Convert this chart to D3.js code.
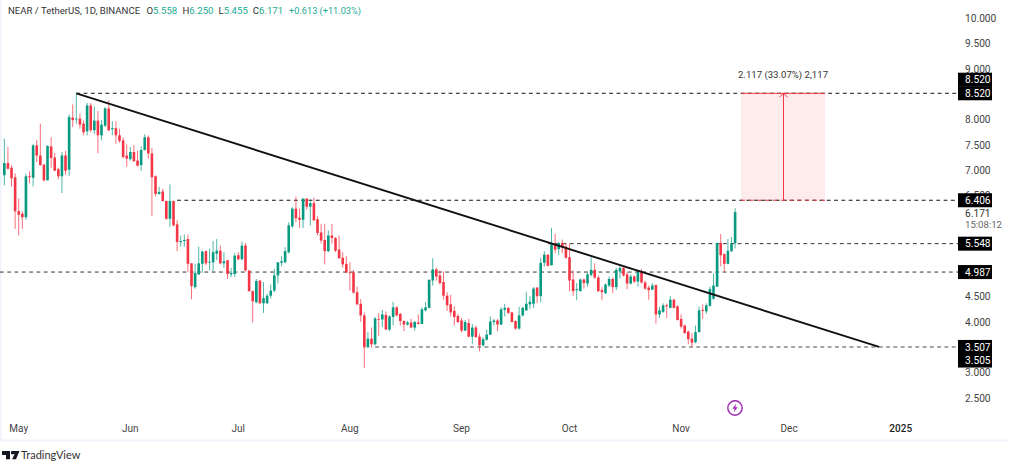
<!DOCTYPE html>
<html><head><meta charset="utf-8">
<script src="https://cdn.jsdelivr.net/npm/d3@7/dist/d3.min.js"></script>
<style>html,body{margin:0;padding:0;background:#fff;overflow:hidden}svg{display:block}text{font-family:Roboto,"Liberation Sans",sans-serif}</style>
</head><body><svg id="c" width="1009" height="465"></svg>
<script>
const firstDay = "2024-04-27";
const opens = [6.90,7.14,7.05,6.86,6.19,6.14,6.07,6.88,6.85,7.49,
7.29,7.11,6.80,7.47,7.25,7.02,6.88,7.29,7.01,8.04,
8.01,8.02,7.92,7.77,8.28,7.79,7.98,7.69,7.88,8.22,
7.81,7.83,7.69,7.59,7.29,7.22,7.36,7.19,7.10,7.40,
7.65,7.33,6.88,6.53,6.58,6.39,6.04,6.39,5.93,5.58,
5.60,5.64,5.16,4.69,4.94,5.15,5.40,5.18,5.18,5.35,
5.41,5.16,5.22,4.94,4.95,5.32,5.24,5.51,5.02,4.61,
4.39,4.82,4.37,4.37,4.52,4.62,4.92,5.17,5.18,5.38,
5.89,6.24,6.06,6.02,6.44,6.28,6.35,6.03,5.77,5.62,
5.40,5.71,5.66,5.43,5.27,5.15,4.98,4.98,4.59,4.36,
4.13,3.50,3.67,3.56,4.06,4.05,4.14,3.85,4.10,4.29,
4.16,4.02,3.95,3.99,3.89,3.99,3.96,4.23,4.28,4.82,
5.04,4.92,4.79,4.52,4.35,4.22,4.12,4.03,3.83,3.98,
3.71,3.89,3.71,3.54,3.65,3.75,4.00,4.03,3.95,4.24,
4.28,4.19,4.02,3.87,4.13,4.23,4.35,4.36,4.68,4.51,
5.17,5.33,5.12,5.55,5.44,5.56,5.49,5.28,4.84,4.63,
4.61,4.84,4.76,4.93,5.03,4.88,4.63,4.57,4.72,4.85,
4.69,5.00,5.07,4.94,4.76,4.90,4.80,4.99,4.78,4.68,
4.64,4.73,4.15,4.20,4.33,4.28,4.44,4.31,4.06,3.93,
3.81,3.67,3.60,3.80,4.24,4.21,4.32,4.46,4.70,5.56,
5.34,5.15,5.40,5.558];
const closes = [7.14,7.03,6.84,6.19,6.12,6.07,6.88,6.86,7.49,7.29,
7.10,6.80,7.48,7.24,6.99,6.88,7.29,6.99,8.05,7.99,
8.02,7.90,7.75,8.28,7.79,7.98,7.69,7.90,8.22,7.79,
7.83,7.69,7.58,7.26,7.23,7.36,7.18,7.09,7.40,7.65,
7.33,6.86,6.53,6.57,6.39,6.04,6.39,5.91,5.58,5.60,
5.62,5.15,4.71,4.97,5.16,5.39,5.16,5.19,5.38,5.41,
5.16,5.20,4.95,4.97,5.31,5.24,5.51,5.02,4.61,4.41,
4.81,4.37,4.47,4.52,4.62,4.92,5.18,5.20,5.40,5.91,
6.24,6.05,6.02,6.44,6.28,6.35,6.01,5.76,5.61,5.40,
5.71,5.66,5.41,5.26,5.14,4.98,4.97,4.58,4.35,4.13,
3.50,3.67,3.56,4.07,4.05,4.15,3.85,4.11,4.29,4.13,
4.02,3.95,3.99,3.89,4.00,3.96,4.25,4.29,4.83,5.04,
4.90,4.77,4.52,4.33,4.19,4.10,4.00,3.83,4.00,3.71,
3.89,3.70,3.54,3.66,3.75,4.01,4.03,3.95,4.25,4.28,
4.18,4.00,3.87,4.13,4.28,4.36,4.40,4.66,4.51,5.17,
5.33,5.11,5.55,5.43,5.56,5.48,5.27,4.82,4.61,4.65,
4.84,4.77,4.94,5.03,4.88,4.61,4.59,4.74,4.85,4.69,
5.03,5.07,4.92,4.76,4.90,4.80,5.00,4.78,4.66,4.63,
4.72,4.15,4.23,4.33,4.31,4.44,4.28,4.04,3.91,3.78,
3.66,3.59,3.80,4.23,4.22,4.33,4.65,4.72,5.56,5.32,
5.15,5.41,5.55,6.171];
const highs = [7.62,7.46,7.10,6.94,6.44,6.19,6.93,6.98,7.52,7.60,
7.92,7.12,7.49,7.65,7.34,7.05,7.36,7.38,8.10,8.30,
8.52,8.12,7.98,8.33,8.33,8.26,8.17,7.99,8.25,8.38,
7.97,7.97,7.82,7.65,7.51,7.46,7.50,7.38,7.47,7.71,
7.69,7.44,6.90,6.67,6.63,6.40,6.72,6.40,6.01,5.71,
5.73,5.73,5.16,5.15,5.49,5.41,5.41,5.45,5.60,5.64,
5.51,5.38,5.22,5.07,5.36,5.38,5.59,5.56,5.02,4.62,
4.85,4.82,4.79,4.56,4.74,5.05,5.18,5.30,5.48,5.97,
6.27,6.48,6.24,6.44,6.44,6.42,6.46,6.09,5.94,5.94,
5.81,5.94,5.68,5.71,5.38,5.30,5.18,5.03,4.70,4.45,
4.19,3.80,3.89,4.10,4.17,4.24,4.21,4.13,4.40,4.31,
4.18,4.03,4.02,4.06,4.02,4.15,4.29,4.39,4.85,5.26,
5.07,5.02,5.00,4.59,4.54,4.31,4.16,4.08,4.04,4.06,
3.96,3.93,3.77,3.70,3.85,4.11,4.06,4.06,4.29,4.36,
4.29,4.20,4.03,4.30,4.30,4.59,4.51,4.69,4.69,5.27,
5.40,5.34,5.86,5.74,5.58,5.63,5.56,5.55,5.02,4.77,
4.86,4.86,4.97,5.28,5.16,4.92,4.69,4.76,4.90,4.88,
5.07,5.12,5.10,4.99,4.94,4.92,5.03,5.05,4.82,4.72,
4.77,4.74,4.30,4.37,4.36,4.51,4.46,4.33,4.15,3.95,
3.83,3.78,3.93,4.30,4.35,4.37,4.70,4.95,5.57,5.74,
5.36,5.64,5.68,6.25];
const lows = [6.70,7.01,6.67,5.84,5.71,5.84,6.02,6.74,6.68,7.16,
7.09,6.78,6.80,7.05,6.99,6.82,6.55,6.91,6.89,7.85,
7.92,7.82,7.69,7.69,7.75,7.71,7.34,7.59,7.85,7.77,
7.69,7.52,7.54,7.23,7.07,7.19,7.16,7.07,6.99,7.39,
7.23,6.09,6.48,6.52,6.38,6.02,5.88,5.89,5.40,5.49,
5.49,4.99,4.45,4.66,4.93,4.97,5.12,5.02,5.00,5.22,
5.14,5.07,4.85,4.89,4.89,5.22,5.22,5.00,4.60,3.99,
4.37,4.36,4.18,4.36,4.46,4.59,4.76,5.10,5.16,5.35,
5.86,5.97,5.86,5.86,6.22,5.91,6.00,5.71,5.55,5.14,
5.38,5.55,5.38,5.25,5.07,4.97,4.62,4.56,4.33,4.00,
3.09,3.49,3.49,3.54,3.73,3.90,3.85,3.82,3.93,4.11,
3.93,3.82,3.93,3.88,3.83,3.95,3.96,4.21,4.27,4.72,
4.82,4.74,4.44,4.22,4.11,3.93,3.98,3.80,3.82,3.70,
3.56,3.69,3.42,3.52,3.63,3.74,3.93,3.82,3.94,4.11,
4.16,3.99,3.85,3.85,4.11,4.22,4.26,4.28,4.37,4.39,
5.09,5.10,5.12,5.36,5.32,5.36,5.25,4.61,4.52,4.43,
4.60,4.66,4.70,4.90,4.85,4.59,4.43,4.55,4.69,4.57,
4.63,4.86,4.90,4.65,4.74,4.77,4.70,4.76,4.64,4.44,
4.63,3.97,4.08,4.18,4.08,4.27,4.27,4.03,3.87,3.77,
3.56,3.50,3.58,3.79,4.06,4.16,4.30,4.44,4.69,5.10,
4.99,5.14,5.38,5.455];

const priceTicks = [10,9.5,9,8,7.5,7,6.5,4.5,4,3,2.5];
const monthLabels = ["May","Jun","Jul","Aug","Sep","Oct","Nov","Dec","2025"];
const monthDates = ["2024-05-01","2024-06-01","2024-07-01","2024-08-01","2024-09-01","2024-10-01","2024-11-01","2024-12-01","2025-01-01"];
const levelValues = [8.52,6.406,5.548,4.987,3.507,3.505];
const levelStarts = ["2024-05-17","2024-06-14","2024-09-25","2024-04-25","2024-08-08","2024-08-08"];
const badgeValues = [8.52,6.406,5.548,4.987,3.507];
const trendDates = ["2024-05-17","2024-12-26"];
const trendPrices = [8.52,3.507];
const targetPrices = [8.52,6.406];

const parse = d3.utcParse("%Y-%m-%d");
const green = "#089981", red = "#f23645";
const svg = d3.select("#c");
const x = d3.scaleUtc().domain([parse(firstDay), parse("2025-01-01")]).range([4.33, 900.7]);
const y = d3.scaleLinear().domain([10, 2.5]).range([18.4, 397.9]);
const axisRight = 958;
const day = i => d3.utcDay.offset(parse(firstDay), i);

svg.append("rect").attr("x",0).attr("y",0).attr("width",1.6).attr("height",441).attr("fill","#f0f3fa");
svg.append("rect").attr("x",0).attr("y",439.5).attr("width",1009).attr("height",2).attr("fill","#f0f3fa");

// target box
const byT = y(targetPrices[0]), byB = y(targetPrices[1]);
svg.append("rect").attr("x",741).attr("y",byT).attr("width",84).attr("height",byB-byT).attr("fill","#feeced");

// horizontal levels
levelValues.forEach((v,i)=>{
  svg.append("line").attr("x1",Math.max(0,x(parse(levelStarts[i])))).attr("x2",axisRight)
    .attr("y1",y(v)).attr("y2",y(v)).attr("stroke",i>=4?"#888":(i>=2?"#333":"#111")).attr("stroke-width",i>=4?1.1:1)
    .attr("stroke-dasharray","3.8 3.5");
});

// candles
const candles = opens.map((o,i)=>({i,o,h:highs[i],l:lows[i],c:closes[i]}));
const g = svg.append("g");
g.selectAll("line.w").data(candles).join("line").attr("class","w")
  .attr("x1",d=>x(day(d.i))).attr("x2",d=>x(day(d.i)))
  .attr("y1",d=>y(d.h)).attr("y2",d=>y(d.l))
  .attr("stroke",d=>d.c>=d.o?green:red).attr("stroke-width",0.9).attr("stroke-opacity",0.8);
g.selectAll("rect.b").data(candles).join("rect").attr("class","b")
  .attr("x",d=>x(day(d.i))-1.3).attr("width",2.6)
  .attr("y",d=>y(Math.max(d.o,d.c)))
  .attr("height",d=>Math.max(0.8,Math.abs(y(d.o)-y(d.c))))
  .attr("fill",d=>d.c>=d.o?green:red);

// trend line
svg.append("line").attr("x1",x(parse(trendDates[0]))).attr("y1",y(trendPrices[0]))
  .attr("x2",x(parse(trendDates[1]))).attr("y2",y(trendPrices[1]))
  .attr("stroke","#111").attr("stroke-width",1.9);

// target box strokes and arrow
svg.append("line").attr("x1",741).attr("x2",825).attr("y1",byT).attr("y2",byT).attr("stroke",red).attr("stroke-width",1);
svg.append("line").attr("x1",741).attr("x2",825).attr("y1",byB).attr("y2",byB).attr("stroke",red).attr("stroke-width",1).attr("stroke-dasharray","4 4");
svg.append("line").attr("x1",783.5).attr("x2",783.5).attr("y1",byB).attr("y2",byT).attr("stroke",red).attr("stroke-width",1);
svg.append("path").attr("d",`M779.5,${byT+4}L783.5,${byT}L787.5,${byT+4}`).attr("fill","none").attr("stroke",red).attr("stroke-width",1);
svg.append("text").attr("x",783).attr("y",78).attr("text-anchor","middle").attr("font-size",9.6).attr("fill","#333").text("2.117 (33.07%) 2,117");

// price axis
const pAxis = svg.append("g").attr("transform","translate(965,0)")
  .call(d3.axisRight(y).tickValues(priceTicks).tickSize(0).tickPadding(0).tickFormat(d3.format(".3f")));
pAxis.select(".domain").remove();
pAxis.selectAll("text").attr("font-size",10.2).attr("fill","#444").attr("font-family","Roboto");

// price badges
function badge(v,cy){
  svg.append("rect").attr("x",958).attr("y",cy-7).attr("width",34).attr("height",14).attr("fill","#000");
  svg.append("text").attr("x",965).attr("y",cy+3.6).attr("font-size",10.2).attr("fill","#fff").text(d3.format(".3f")(v));
}
badge(8.52,y(8.52)-13.6);
badgeValues.forEach(v=>badge(v,y(v)));
badge(3.505,y(3.507)+13.6);
svg.append("text").attr("x",965).attr("y",217).attr("font-size",10.2).attr("fill","#333").text("6.171");
svg.append("text").attr("x",965).attr("y",228).attr("font-size",9.6).attr("fill","#666").text("15:08:12");

// time axis
svg.selectAll("text.m").data(monthLabels).join("text").attr("class","m")
  .attr("x",(d,i)=>x(parse(monthDates[i]))).attr("y",432).attr("text-anchor","middle")
  .attr("font-size",10).attr("fill",d=>d==="2025"?"#222":"#444").attr("font-weight",d=>d==="2025"?500:400).text(d=>d);

// header
const hdr = svg.append("text").attr("x",8).attr("y",14).attr("font-size",9.6).attr("fill","#333");
const hdrGreen = "#22ab94";
hdr.append("tspan").text("NEAR / TetherUS, 1D, BINANCE");
[["O","5.558",146.5],["H","6.250",182.5],["L","5.455",218.5],["C","6.171",252.8]].forEach(([k,v,px])=>{
  hdr.append("tspan").attr("x",px).attr("fill","#333").text(k);
  hdr.append("tspan").attr("fill",hdrGreen).text(v);
});
hdr.append("tspan").attr("x",289).attr("font-size",9.2).attr("fill",hdrGreen).text("+0.613 (+11.03%)");

// event icon
const ic = svg.append("g").attr("transform","translate(735,408)");
ic.append("circle").attr("r",7.2).attr("fill","#fff").attr("stroke","#9c27b0").attr("stroke-width",1.4);
ic.append("path").attr("d","M1.2,-4.5L-2.6,0.8H-0.3L-1.2,4.5L2.6,-0.8H0.3Z").attr("fill","#9c27b0");

// logo
svg.append("path").attr("d","M2,451H10V459.2H6V455H2ZM11.4,451H15.4L19.5,451L16,459.2H12.2L14.6,454H11.4Z").attr("fill","#131722");
svg.append("circle").attr("cx",12.6).attr("cy",452.8).attr("r",1.7).attr("fill","#131722");
svg.append("text").attr("x",21).attr("y",459).attr("font-size",11).attr("fill","#333").style("font-family","Lato").text("TradingView");
</script></body></html>
